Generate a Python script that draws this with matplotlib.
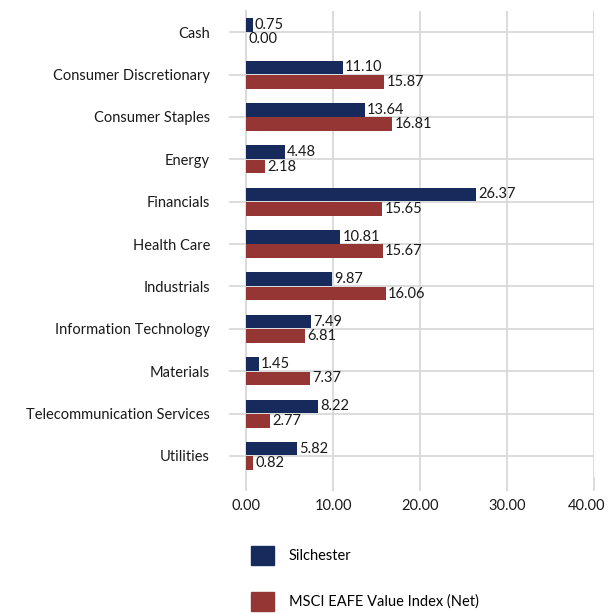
import matplotlib.pyplot as plt
import matplotlib.patches as mpatches
import matplotlib.transforms as mtransforms
import numpy as np

categories = ['Cash', 'Consumer Discretionary', 'Consumer Staples', 'Energy',
              'Financials', 'Health Care', 'Industrials', 'Information Technology',
              'Materials', 'Telecommunication Services', 'Utilities']
silchester = [0.75, 11.10, 13.64, 4.48, 26.37, 10.81, 9.87, 7.49, 1.45, 8.22, 5.82]
msci = [0.00, 15.87, 16.81, 2.18, 15.65, 15.67, 16.06, 6.81, 7.37, 2.77, 0.82]
series_names = ['Silchester', 'MSCI EAFE Value Index (Net)']
x_ticks = [0, 10, 20, 30, 40]

navy = '#172A5C'
red = '#963634'
grid_c = '#D9D9D9'

plt.rcParams['font.family'] = ['Lato', 'DejaVu Sans']
plt.rcParams['font.size'] = 10.5

fig = plt.figure(figsize=(6.09, 6.14), dpi=100)
ax = fig.add_axes([0.404, 0.223, 0.572, 0.759])

y = np.arange(len(categories))
h = 0.32
b1 = ax.barh(y - 0.17, silchester, height=h, color=navy, zorder=3)
b2 = ax.barh(y + 0.17, msci, height=h, color=red, zorder=3)

for bars in (b1, b2):
    for rect in bars:
        w = rect.get_width()
        ax.text(w + 0.25, rect.get_y() + rect.get_height() / 2, f'{w:.2f}',
                va='center', ha='left', color='#1a1a1a', zorder=4)

ax.set_ylim(len(categories) - 0.5, -0.5)
ax.set_xlim(0, 40)
ax.set_yticks(y)
ax.set_yticklabels(categories)
ax.set_xticks(x_ticks)
ax.set_xticklabels([f'{t:.2f}' for t in x_ticks])

ax.grid(True, axis='both', color=grid_c, linewidth=1.3, zorder=0)
for s in ['top', 'right', 'bottom']:
    ax.spines[s].set_visible(False)
ax.spines['left'].set_color(grid_c)
ax.spines['left'].set_linewidth(1.3)
ax.tick_params(axis='y', length=12, width=1.3, color=grid_c, pad=14, labelcolor='#1a1a1a')
ax.tick_params(axis='x', length=10, width=1.3, color=grid_c, pad=6, labelcolor='#1a1a1a')

# last x label pulled left so it fits, as in the original
last = ax.get_xticklabels()[-1]
last.set_transform(last.get_transform() + mtransforms.ScaledTranslation(-0.08, 0, fig.dpi_scale_trans))

handles = [mpatches.Patch(color=navy), mpatches.Patch(color=red)]
fig.legend(handles, series_names, loc='upper left', bbox_to_anchor=(0.39, 0.132),
           frameon=False, handlelength=1.6, handleheight=1.6, labelspacing=1.85,
           handletextpad=1.0)

fig.savefig('out.png', dpi=100)
